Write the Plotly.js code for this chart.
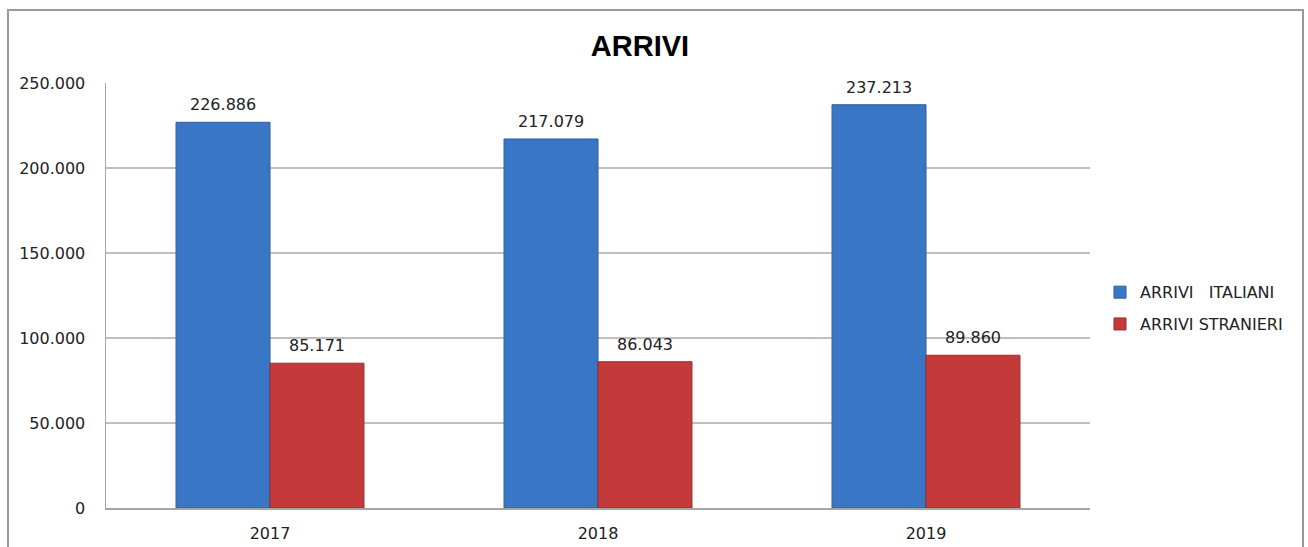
<!DOCTYPE html>
<html>
<head>
<meta charset="utf-8">
<script src="https://cdn.plot.ly/plotly-3.0.1.min.js"></script>
<style>html,body{margin:0;padding:0;background:#fff;}#chart{width:1308px;height:547px;}</style>
</head>
<body>
<div id="chart"></div>
<script>
const years = ['2017', '2018', '2019'];
const italiani = [226886, 217079, 237213];
const stranieri = [85171, 86043, 89860];
const seriesNames = ['ARRIVI\u00a0\u00a0 ITALIANI', 'ARRIVI STRANIERI'];
const yTicks = [0, 50000, 100000, 150000, 200000, 250000];

const W = 1308, H = 547;
const margin = {l: 106, r: 218, t: 83, b: 39};
const bargap = 0.427;
const plotW = W - margin.l - margin.r;
const catPx = plotW / years.length;
const shift = catPx * (1 - bargap) / 4;

function fmt(v) {
  return v.toString().replace(/\B(?=(\d{3})+(?!\d))/g, '.');
}

const font = 'DejaVu Sans, sans-serif';

const traces = [
  {
    type: 'bar', x: years, y: italiani, name: seriesNames[0], legendgroup: 'it',
    marker: {color: '#3a76c6', line: {color: '#2d5f9e', width: 1}},
    hoverinfo: 'none'
  },
  {
    type: 'bar', x: years, y: stranieri, name: seriesNames[1], legendgroup: 'st',
    marker: {color: '#c43a3a', line: {color: '#9a2c2c', width: 1}},
    hoverinfo: 'none'
  }
];

const annotations = [];
years.forEach((yr, i) => {
  annotations.push({x: i, y: italiani[i], xref: 'x', yref: 'y', text: fmt(italiani[i]),
    showarrow: false, xshift: -shift, yanchor: 'bottom', yshift: 6,
    font: {family: font, size: 16, color: '#222'}});
  annotations.push({x: i, y: stranieri[i], xref: 'x', yref: 'y', text: fmt(stranieri[i]),
    showarrow: false, xshift: shift, yanchor: 'bottom', yshift: 6,
    font: {family: font, size: 16, color: '#222'}});
});

const layout = {
  width: W, height: H,
  margin: margin,
  paper_bgcolor: '#fff', plot_bgcolor: '#fff',
  separators: ',.',
  barmode: 'group', bargap: bargap, bargroupgap: 0,
  title: {
    text: '<b>ARRIVI</b>',
    font: {family: 'Liberation Sans, Arial, sans-serif', size: 29, color: '#000'},
    xref: 'paper', x: (640 - margin.l) / plotW, xanchor: 'center',
    yref: 'container', y: 1 - 46 / H, yanchor: 'middle'
  },
  xaxis: {
    type: 'category', range: [-0.5, years.length - 0.5],
    showline: true, linecolor: '#a6a6a6', linewidth: 1.5,
    ticks: '', ticklabelstandoff: 10,
    tickfont: {family: font, size: 16, color: '#222'},
    showgrid: false, fixedrange: true
  },
  yaxis: {
    range: [0, 250000], tickvals: yTicks, ticktext: yTicks.map(fmt),
    showline: true, linecolor: '#a6a6a6', linewidth: 1.5,
    showgrid: true, gridcolor: '#bfbfbf', gridwidth: 1.5,
    zeroline: false,
    ticks: '', ticklabelstandoff: 16,
    tickfont: {family: font, size: 16, color: '#222'},
    fixedrange: true
  },
  legend: {
    x: (1100 - margin.l) / plotW, xanchor: 'left',
    y: 0.47, yanchor: 'middle',
    font: {family: font, size: 16, color: '#222'},
    tracegroupgap: 8, itemwidth: 30,
    bgcolor: 'rgba(0,0,0,0)'
  },
  annotations: annotations,
  shapes: [{
    type: 'rect', xref: 'paper', yref: 'paper', layer: 'below',
    x0: (8 - margin.l) / plotW, x1: (1303 - margin.l) / plotW,
    y0: -0.3, y1: (H - margin.b - 10) / (H - margin.t - margin.b),
    line: {color: '#9a9a9a', width: 2}, fillcolor: 'rgba(0,0,0,0)'
  }],
  showlegend: true
};

Plotly.newPlot('chart', traces, layout, {displayModeBar: false, staticPlot: true});
</script>
</body>
</html>
